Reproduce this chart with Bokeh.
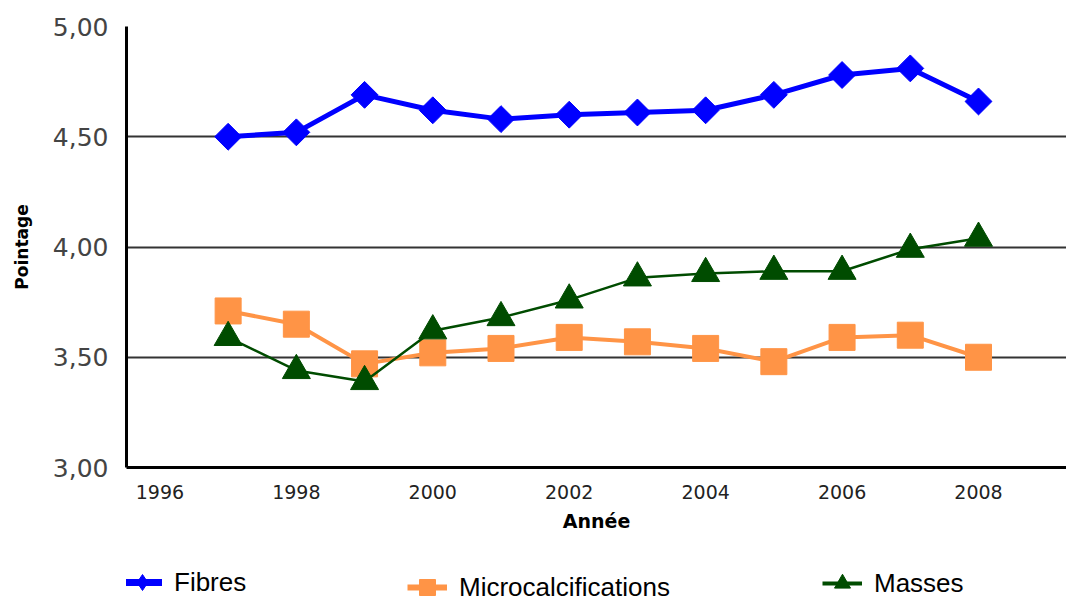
import math

from bokeh.embed import file_html
from bokeh.layouts import column
from bokeh.models import (ColumnDataSource, FixedTicker, Legend, LegendItem)
from bokeh.plotting import figure
from bokeh.resources import INLINE

# Yearly mean scores per lesion type
years = [1997, 1998, 1999, 2000, 2001, 2002, 2003, 2004, 2005, 2006, 2007, 2008]
fibres = [4.50, 4.52, 4.69, 4.62, 4.58, 4.60, 4.61, 4.62, 4.69, 4.78, 4.81, 4.66]
microcalcifications = [3.71, 3.65, 3.47, 3.52, 3.54, 3.59, 3.57, 3.54, 3.48, 3.59, 3.60, 3.50]
masses = [3.59, 3.44, 3.39, 3.62, 3.68, 3.76, 3.86, 3.88, 3.89, 3.89, 3.99, 4.04]

x_ticks = [1996, 1998, 2000, 2002, 2004, 2006, 2008]
y_ticks = [3.0, 3.5, 4.0, 4.5, 5.0]
y_tick_labels = ["3,00", "3,50", "4,00", "4,50", "5,00"]
series_names = ["Fibres", "Microcalcifications", "Masses"]

BLUE = "#0000FF"
ORANGE = "#FF9446"
GREEN = "#004C00"

p = figure(
    width=1066, height=545,
    x_range=(1995.51, 2009.29), y_range=(3.0, 5.0),
    min_border_left=126, min_border_right=0,
    min_border_top=26, min_border_bottom=78,
    output_backend="svg", toolbar_location=None,
    background_fill_color="white", border_fill_color="white",
)
p.outline_line_color = None

# axes
for ax in (p.xaxis[0], p.yaxis[0]):
    ax.axis_line_width = 3
    ax.axis_line_color = "black"
    ax.major_tick_line_color = None
    ax.minor_tick_line_color = None

p.xaxis.ticker = FixedTicker(ticks=x_ticks)
p.xaxis.major_label_text_font = "DejaVu Sans"
p.xaxis.major_label_text_font_size = "19px"
p.xaxis.major_label_text_color = "#222222"
p.xaxis.major_label_standoff = 11
p.xaxis.axis_label = "Année"
p.xaxis.axis_label_text_font = "DejaVu Sans"
p.xaxis.axis_label_text_font_style = "bold"
p.xaxis.axis_label_text_font_size = "19px"
p.xaxis.axis_label_text_color = "black"
p.xaxis.axis_label_standoff = 8

p.yaxis.ticker = FixedTicker(ticks=y_ticks)
p.yaxis.major_label_overrides = dict(zip(y_ticks, y_tick_labels))
p.yaxis.major_label_text_font = "DejaVu Sans"
p.yaxis.major_label_text_font_size = "25px"
p.yaxis.major_label_text_color = "#444444"
p.yaxis.major_label_standoff = 12
p.yaxis.axis_label = "Pointage"
p.yaxis.axis_label_text_font = "DejaVu Sans"
p.yaxis.axis_label_text_font_style = "bold"
p.yaxis.axis_label_text_font_size = "17px"
p.yaxis.axis_label_text_color = "black"
p.yaxis.axis_label_standoff = 18

# grid
p.xgrid.grid_line_color = None
p.ygrid.ticker = FixedTicker(ticks=y_ticks)
p.ygrid.grid_line_color = "#333333"
p.ygrid.grid_line_width = 2

src = ColumnDataSource(dict(year=years, fibres=fibres,
                            micro=microcalcifications, masses=masses))

# series
p.line("year", "fibres", source=src, line_color=BLUE, line_width=5)
p.scatter("year", "fibres", source=src, marker="square", angle=math.pi / 4,
          size=19, fill_color=BLUE, line_color=BLUE)

p.line("year", "micro", source=src, line_color=ORANGE, line_width=4)
p.scatter("year", "micro", source=src, marker="square", size=26,
          fill_color=ORANGE, line_color=ORANGE)

p.line("year", "masses", source=src, line_color=GREEN, line_width=2.5)
p.scatter("year", "masses", source=src, marker="triangle", size=28,
          fill_color=GREEN, line_color=GREEN)

# legend strip underneath the chart; its series renderers fall outside
# the strip's ranges and only supply the legend swatches
leg = figure(
    width=1066, height=54, x_range=(0, 1), y_range=(0, 1),
    x_axis_type=None, y_axis_type=None,
    min_border=0, min_border_left=0, min_border_right=0,
    min_border_top=0, min_border_bottom=0,
    output_backend="svg", toolbar_location=None,
    background_fill_color="white", border_fill_color="white",
)
leg.outline_line_color = None
leg.grid.visible = False

lf = leg.line("year", "fibres", source=src, line_color=BLUE, line_width=7)
mf = leg.scatter("year", "fibres", source=src, marker="diamond",
                 fill_color=BLUE, line_color=BLUE)
lm = leg.line("year", "micro", source=src, line_color=ORANGE, line_width=6)
mm = leg.scatter("year", "micro", source=src, marker="square",
                 fill_color=ORANGE, line_color=ORANGE)
lg = leg.line("year", "masses", source=src, line_color=GREEN, line_width=4)
mg = leg.scatter("year", "masses", source=src, marker="triangle",
                 fill_color=GREEN, line_color=GREEN)

swatches = [[lf, mf], [lm, mm], [lg, mg]]
positions = [(-4, -3), (281, -8), (696, -4)]
for name, rends, loc in zip(series_names, swatches, positions):
    leg.add_layout(Legend(
        items=[LegendItem(label=name, renderers=rends)],
        location=loc, orientation="horizontal",
        border_line_color=None, background_fill_alpha=0,
        padding=0, margin=0, spacing=0,
        glyph_width=40, glyph_height=40, label_height=40,
        label_standoff=12,
        label_text_font="Liberation Sans", label_text_font_size="26px",
        label_text_color="black",
    ), "center")

layout = column(p, leg, spacing=0)
open("out.html", "w").write(file_html(layout, INLINE))
